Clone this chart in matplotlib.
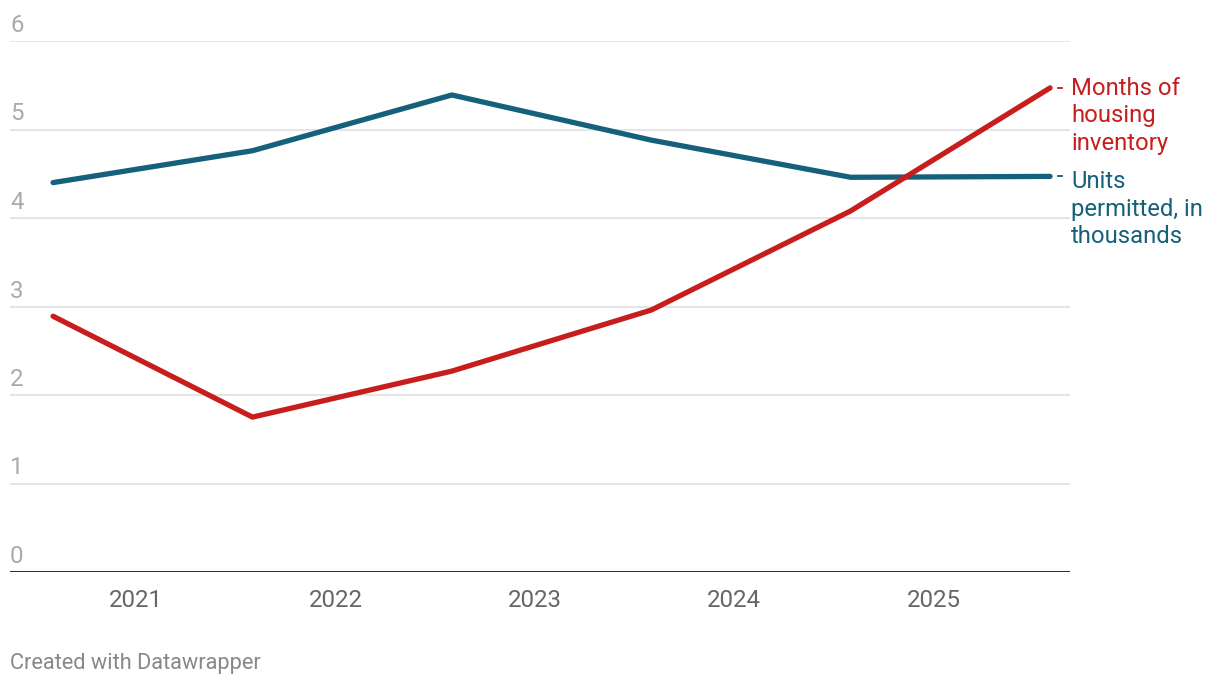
import matplotlib
matplotlib.use("Agg")
import matplotlib.pyplot as plt
from matplotlib.transforms import blended_transform_factory, offset_copy

plt.rcParams['font.family'] = ['Roboto', 'DejaVu Sans']

year_labels = ["2021", "2022", "2023", "2024", "2025"]
inventory = [2.89, 1.75, 2.27, 2.96, 4.08, 5.47]
permits = [4.40, 4.76, 5.39, 4.88, 4.46, 4.47]
y_ticks = [0, 1, 2, 3, 4, 5, 6]

RED = "#c71e1d"
BLUE = "#15607a"

fig = plt.figure(figsize=(12.2, 6.88), dpi=100)
ax = fig.add_axes([10/1220, 1-572/688, 1060/1220, (572-41)/688])

x = list(range(len(inventory)))
ax.set_xlim(-0.216, 5.10)
ax.set_ylim(0, 6)

for v in y_ticks[1:]:
    ax.axhline(v, color="#e3e3e3", lw=1.3, zorder=1)
ax.axhline(0, color="#1a1a1a", lw=2, zorder=3)

ax.plot(x, permits, color=BLUE, lw=3.8, solid_capstyle='round', solid_joinstyle='round', zorder=4, clip_on=False)
ax.plot(x, inventory, color=RED, lw=3.8, solid_capstyle='round', solid_joinstyle='round', zorder=5, clip_on=False)

for s in ax.spines.values():
    s.set_visible(False)
ax.set_yticks([])
ax.set_xticks([i + 0.416 for i in range(len(year_labels))])
ax.set_xticklabels(year_labels, fontsize=17.3, color="#666666")
ax.tick_params(axis='x', length=0, pad=12)

tr = blended_transform_factory(ax.transAxes, ax.transData)
for v in y_ticks:
    ax.text(0, v, str(v), transform=offset_copy(tr, fig=fig, x=0, y=9, units='dots'),
            fontsize=17.3, color="#aaaaaa", ha='left', va='baseline')

# end labels with small connectors
for vals, col, label, dy in [(inventory, RED, "Months of\nhousing\ninventory", -62),
                             (permits, BLUE, "Units\npermitted, in\nthousands", -67)]:
    xe = x[-1]
    ye = vals[-1]
    ax.plot([xe + 8/199.4, xe + 12/199.4], [ye, ye], color=col, lw=1.3, clip_on=False)
    ax.annotate(label, xy=(xe, ye), xytext=(21, dy), textcoords='offset pixels',
                fontsize=17.2, color=col, ha='left', va='baseline', linespacing=1.26,
                annotation_clip=False)

fig.text(10/1220, 1-664/688, "Created with Datawrapper", fontsize=15.7, color="#888888",
         ha='left', va='center')

fig.savefig("out.png", dpi=100)
